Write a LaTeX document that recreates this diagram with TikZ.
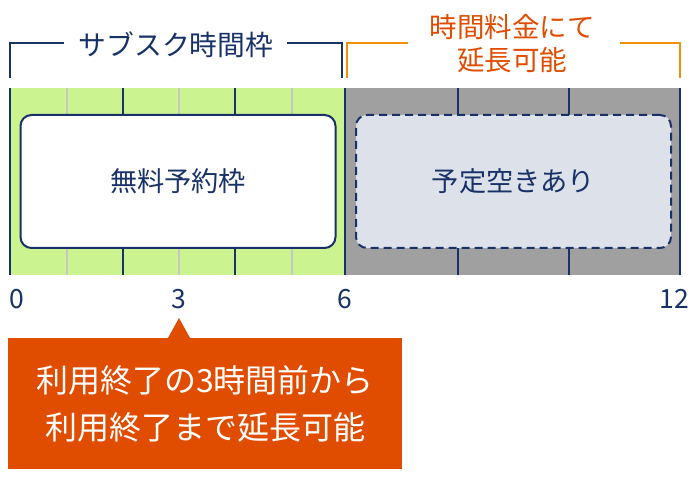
\documentclass[tikz,border=0pt]{standalone}
\usepackage{fontspec}
\setmainfont{Noto Sans CJK JP}
\usetikzlibrary{positioning,calc}
\definecolor{slotblue}{RGB}{24,50,104}
\definecolor{subgreen}{RGB}{203,243,143}
\definecolor{usedgray}{RGB}{160,160,160}
\definecolor{openfill}{RGB}{221,225,234}
\definecolor{noteorange}{RGB}{224,76,0}
\definecolor{brkorange}{RGB}{240,145,10}

\begin{document}
\begin{tikzpicture}[x=1pt,y=-1pt,slot/.style={draw=slotblue,line width=2pt,rounded corners=11pt,minimum width=315pt,minimum height=133pt,inner sep=0pt,text=slotblue,font=\fontsize{27.2}{30}\selectfont},numlbl/.style={text=slotblue,inner sep=0pt,font=\fontsize{26.5}{30}\selectfont},brk/.style={line width=2pt},note/.style={fill=noteorange,text=white,minimum width=394pt,minimum height=131pt,inner sep=0pt,align=center,font=\fontsize{32}{47}\selectfont}]
\useasboundingbox (0,0) rectangle (690,478);
% time bar
\fill[subgreen] (10,88) rectangle (345,275);
\fill[usedgray] (345,88) rectangle (680,275);
\foreach \x in {67,179,292}{\draw[black!22,line width=1.5pt] (\x,88)--(\x,275);}
\foreach \x in {10,123,235,345,458,569,680}{\draw[slotblue,line width=2pt] (\x,88)--(\x,275);}
\node[slot,fill=white] (free) at (178,181.5) {無料予約枠};
\node[slot,fill=openfill,dash pattern=on 8pt off 5pt] (open) at (513.5,181.5) {予定空きあり};
% brackets
\node[text=slotblue,inner sep=0pt,font=\fontsize{27.8}{30}\selectfont] (subLbl) at (176,45) {サブスク時間枠};
\node[text=noteorange,inner sep=0pt,align=center,font=\fontsize{27.5}{33}\selectfont] (extLbl) at (512,44) {時間料金にて\\延長可能};
\draw[brk,slotblue] (64,43) -| (10,78);
\draw[brk,slotblue] (287,43) -| (342,78);
\draw[brk,brkorange] (408,43) -| (347,78);
\draw[brk,brkorange] (620,43) -| (680,78);
% hours
\foreach \h/\x in {0/17,3/179,6/345,12/674}{\node[numlbl] (tick\h) at (\x,299) {\h};}
% note
\node[note] (notebox) at (205,403.5) {利用終了の3時間前から\\利用終了まで延長可能};
\coordinate (tip) at (179,318);
\fill[noteorange] (tip) -- ($(tip |- notebox.north)+(-11.5,1)$) -- ($(tip |- notebox.north)+(11.5,1)$) -- cycle;
\end{tikzpicture}
\end{document}
